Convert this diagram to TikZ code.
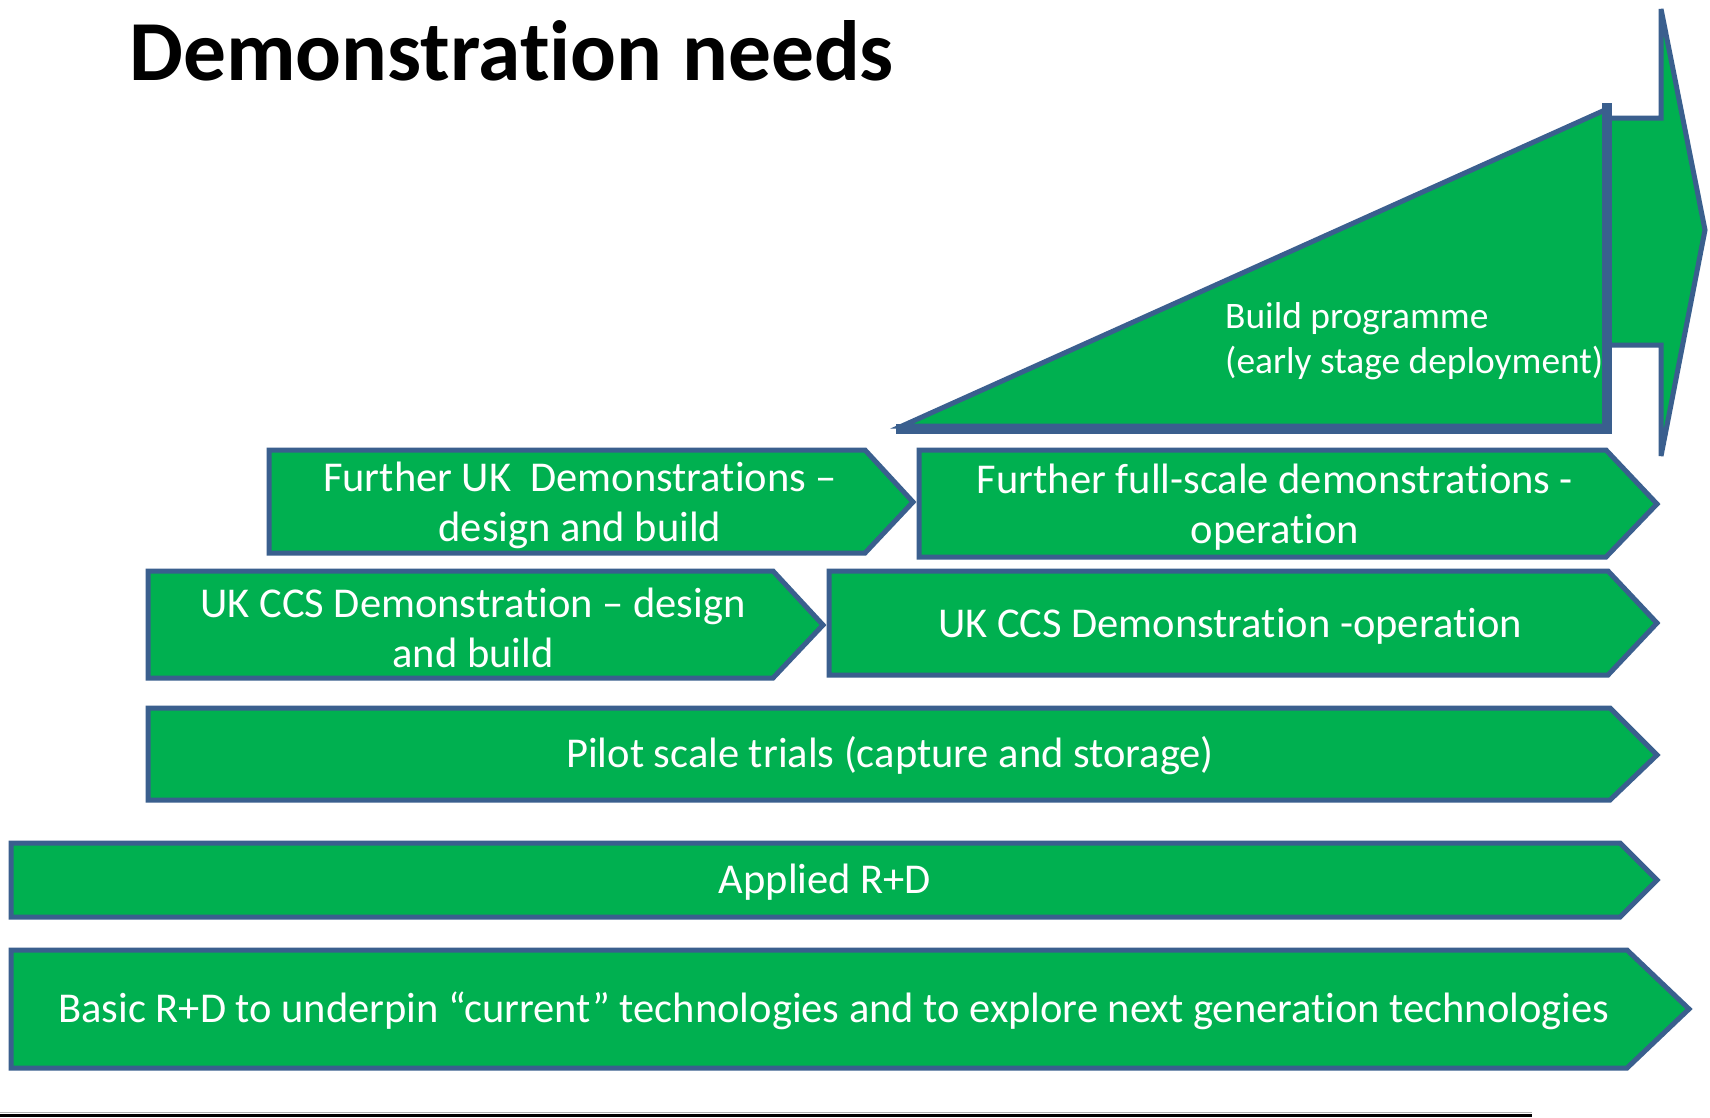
\documentclass[tikz,border=0pt]{standalone}
\usepackage{fontspec}
\setmainfont[Ligatures=NoCommon]{Carlito}
\definecolor{grn}{HTML}{00B050}
\definecolor{edgeblue}{HTML}{3A5F8E}
\begin{document}
\begin{tikzpicture}[x=1pt,y=-1pt,
  shapebox/.style={fill=grn,draw=edgeblue,line width=5pt,line join=miter},
  lbl/.style={text=white,font=\fontsize{42.5}{50}\selectfont,align=center,inner sep=0pt},
  smalllbl/.style={text=white,font=\fontsize{37.4}{45}\selectfont,align=left,inner sep=0pt}]
\useasboundingbox (0,0) rectangle (1710,1117);
\fill[white] (0,0) rectangle (1710,1117);

% title
\node[anchor=base west,inner sep=0pt,font=\fontsize{85.5}{100}\selectfont\bfseries] (title) at (129,80) {Demonstration needs};

% big arrow
\draw[shapebox] (1607,118) -- (1661,118) -- (1661,9) -- (1705,230) -- (1661,456) -- (1661,345) -- (1607,345) -- cycle;
% triangle
\draw[shapebox] (902,426) -- (1605,110) -- (1605,426) -- cycle;
\draw[edgeblue,line width=10pt] (1607,103) -- (1607,429) -- (896,429);

% boxes
\draw[shapebox] (269,450) -- (865,450) -- (913,502) -- (865,553) -- (269,553) -- cycle;
\draw[shapebox] (919,450) -- (1606,450) -- (1657,504) -- (1606,557) -- (919,557) -- cycle;
\draw[shapebox] (148,571) -- (773,571) -- (823,625) -- (773,678) -- (148,678) -- cycle;
\draw[shapebox] (829,571) -- (1608,571) -- (1657,623) -- (1608,675) -- (829,675) -- cycle;
\draw[shapebox] (148,708) -- (1610,708) -- (1657,755) -- (1610,800) -- (148,800) -- cycle;
\draw[shapebox] (11,843) -- (1620,843) -- (1657,880) -- (1620,917) -- (11,917) -- cycle;
\draw[shapebox] (11,950) -- (1627,950) -- (1689,1009) -- (1627,1068) -- (11,1068) -- cycle;

% bottom rule
\draw[gray!60,line width=1pt] (0,1112.5) -- (1532,1112.5);
\draw[black,line width=3pt] (0,1115) -- (1532,1115);

% texts
\node[smalllbl,anchor=west] (build) at (1225,341) {Build programme\\(early stage deployment)};
\node[lbl] (fukdb) at (580,505) {Further UK\ \ Demonstrations --\\design and build};
\node[lbl] (ffsop) at (1275,507) {Further full-scale demonstrations -\\operation};
\node[lbl] (ukdb) at (473,628) {UK CCS Demonstration -- design\\and build};
\node[lbl] (ukop) at (1230,626) {UK CCS Demonstration -operation};
\node[lbl] (pilot) at (890,756) {Pilot scale trials (capture and storage)};
\node[lbl] (applied) at (825,882) {Applied R+D};
\node[lbl] (basic) at (834,1011) {Basic R+D to underpin “current” technologies and to explore next generation technologies};
\end{tikzpicture}
\end{document}
